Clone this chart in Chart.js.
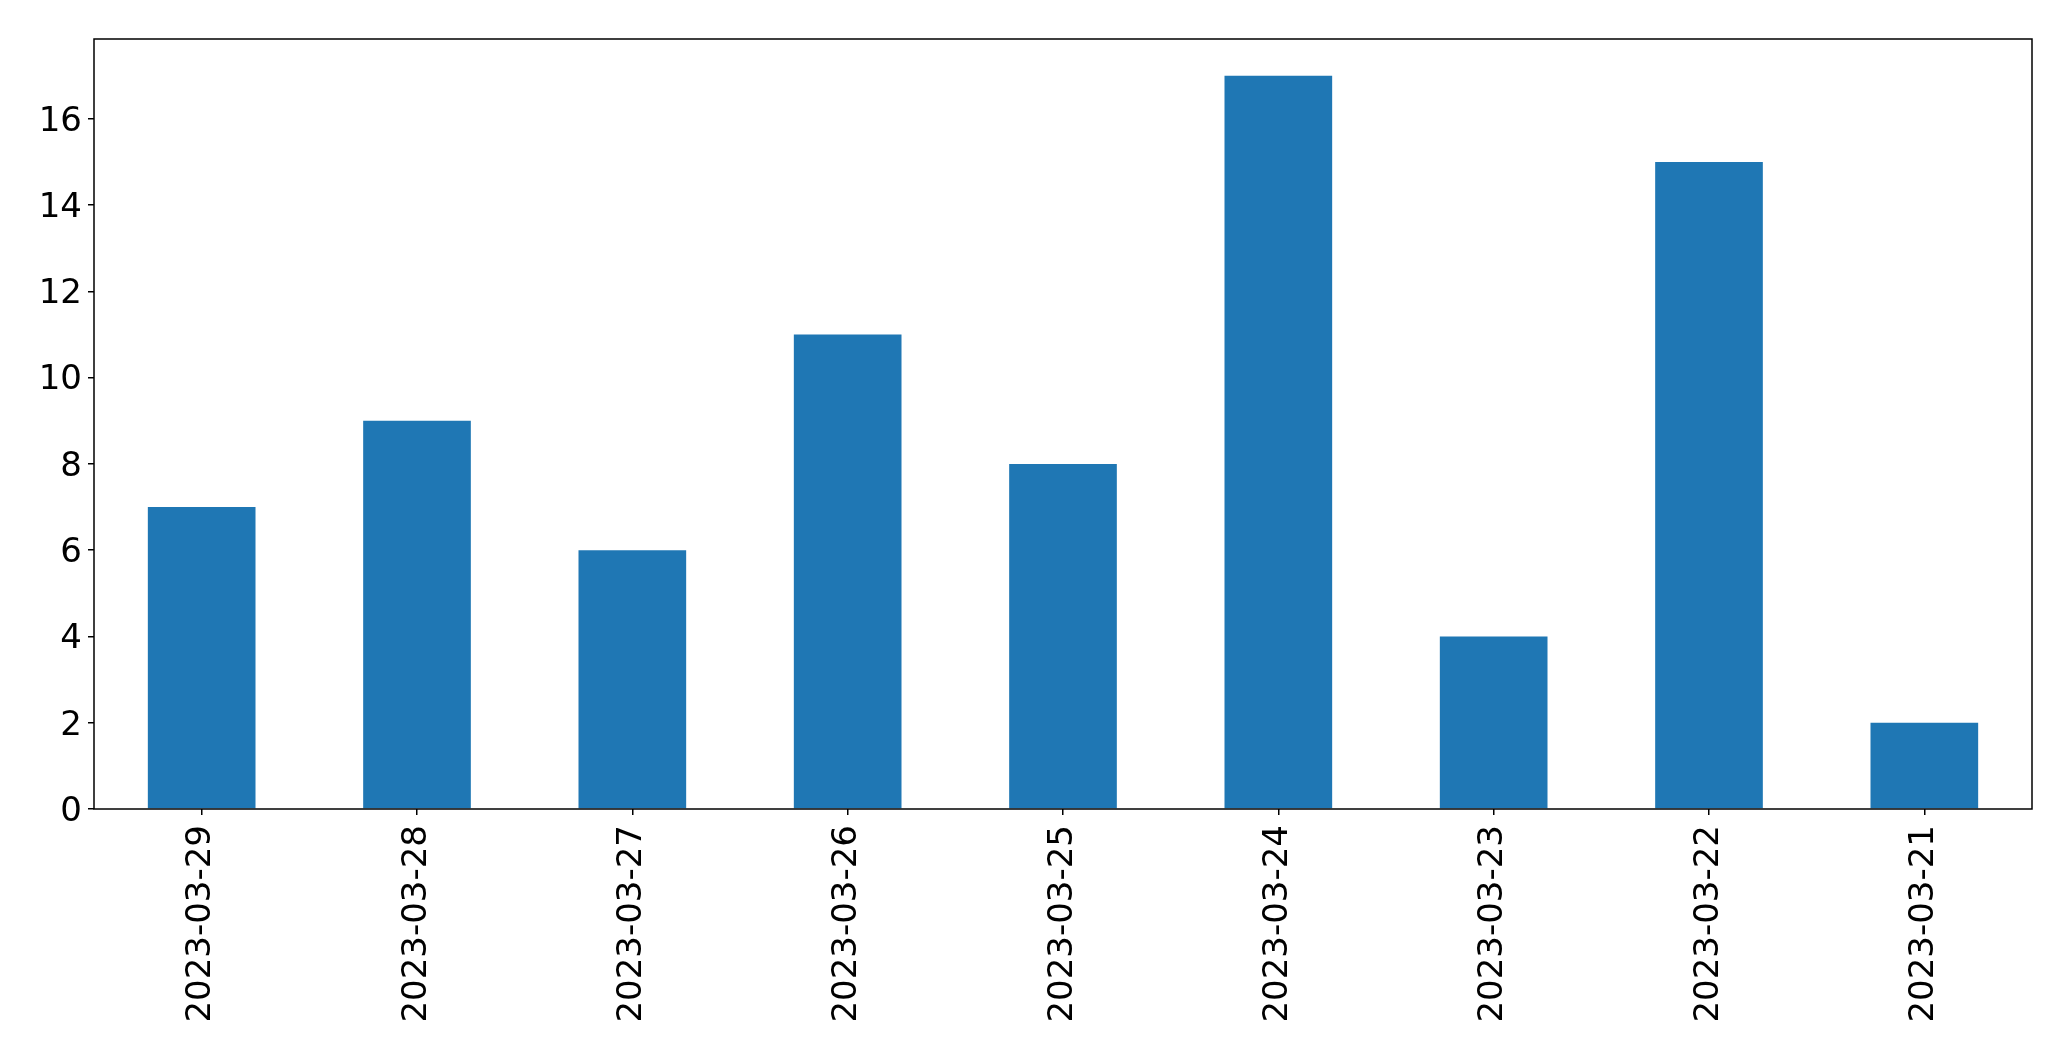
<!DOCTYPE html>
<html>
<head>
<meta charset="utf-8">
<script src="https://cdn.jsdelivr.net/npm/chart.js@4/dist/chart.umd.min.js"></script>
<style>
    html, body { margin: 0; padding: 0; background: #fff; }
    #barChart { display: block; }
</style>
</head>
<body>
<canvas id="barChart" width="2071" height="1061"></canvas>
<script>
// dates, in the order they appear on the x axis
const dates = ['2023-03-29', '2023-03-28', '2023-03-27', '2023-03-26', '2023-03-25',
               '2023-03-24', '2023-03-23', '2023-03-22', '2023-03-21'];
// count per date
const counts = [7, 9, 6, 11, 8, 17, 4, 15, 2];
// y tick labels
const yTicks = [0, 2, 4, 6, 8, 10, 12, 14, 16];

const tickFont = { family: 'DejaVu Sans', size: 34 };

// draws the full box around the plot area, like matplotlib's spines
const frame = {
    id: 'frame',
    afterDraw(chart) {
        const a = chart.chartArea;
        const ctx = chart.ctx;
        ctx.save();
        ctx.strokeStyle = '#000';
        ctx.lineWidth = 1.5;
        ctx.strokeRect(Math.round(a.left), Math.round(a.top),
                       Math.round(a.right) - Math.round(a.left), Math.round(a.bottom) - Math.round(a.top));
        ctx.restore();
    }
};

const ctx = document.getElementById('barChart').getContext('2d');
new Chart(ctx, {
    type: 'bar',
    data: {
        labels: dates,
        datasets: [{
            data: counts,
            backgroundColor: '#1f77b4',
            borderWidth: 0,
            barPercentage: 0.5,
            categoryPercentage: 1.0
        }]
    },
    options: {
        responsive: false,
        animation: false,
        layout: { padding: { top: 39, right: 39, left: 0, bottom: 0 } },
        plugins: {
            legend: { display: false },
            tooltip: { enabled: false }
        },
        scales: {
            x: {
                offset: true,
                grid: { display: true, offset: false, drawOnChartArea: false, tickLength: 6, lineWidth: 1.5, color: '#000', tickColor: '#000' },
                border: { display: false },
                ticks: { color: '#000', font: tickFont, minRotation: 90, maxRotation: 90, padding: 10, autoSkip: false },
                afterFit: function (scale) { scale.height = 252; }
            },
            y: {
                min: 0,
                max: 17.85,
                grid: { display: true, drawOnChartArea: false, tickLength: 6, lineWidth: 1.5, color: '#000', tickColor: '#000' },
                border: { display: false },
                ticks: { color: '#000', font: tickFont, stepSize: 2, padding: 6, labelOffset: 3, includeBounds: false },
                afterBuildTicks: function (scale) {
                    scale.ticks = yTicks.map(v => ({ value: v }));
                },
                afterFit: function (scale) { scale.width = 94; }
            }
        }
    },
    plugins: [frame]
});
</script>
</body>
</html>
